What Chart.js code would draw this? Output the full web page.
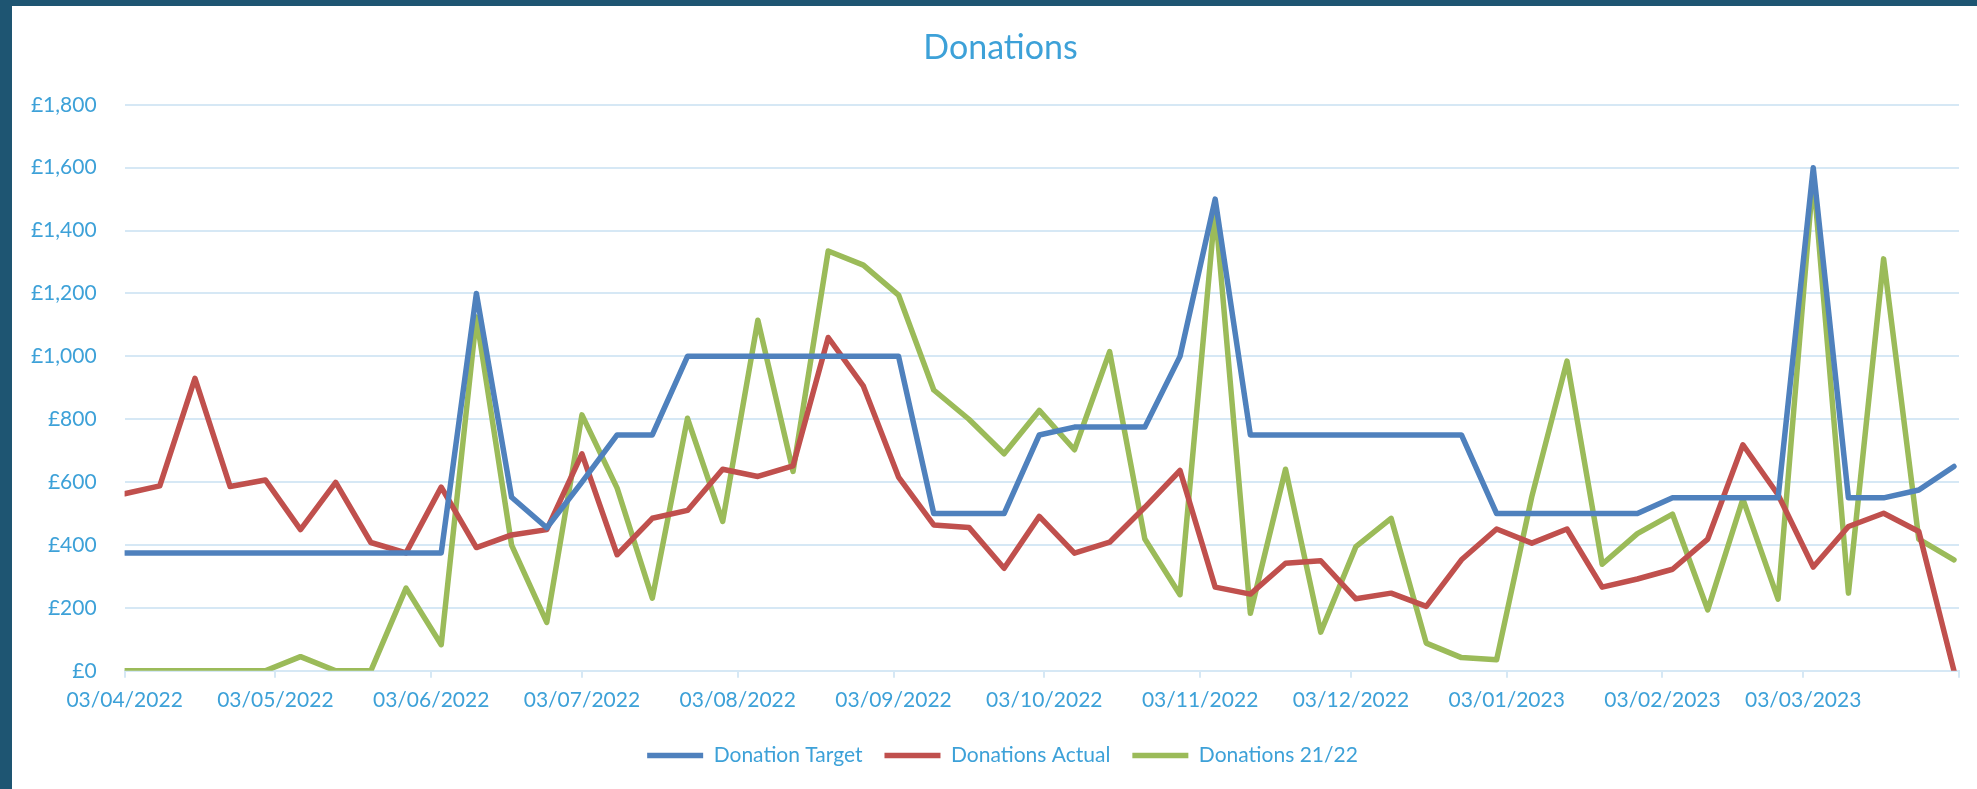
<!DOCTYPE html>
<html>
<head>
<meta charset="utf-8">
<script src="https://cdn.jsdelivr.net/npm/chart.js@4.4.1/dist/chart.umd.min.js"></script>
<style>
  html, body { margin: 0; padding: 0; background: #ffffff; }
  #frame { width: 1965px; height: 783px; border-top: 6px solid #1E5572; border-left: 12px solid #1E5572; background: #fff; }
  #c { display: block; }
</style>
</head>
<body>
<div id="frame"><canvas id="c" width="1965" height="783"></canvas></div>
<script>
// Weekly points, as days since 03/04/2022
const weekDays = [0,7,14,21,28,35,42,49,56,63,70,77,84,91,98,105,112,119,126,133,140,147,154,161,168,175,182,189,196,203,210,217,224,231,238,245,252,259,266,273,280,287,294,301,308,315,322,329,336,343,350,357,364];

const donationTarget = [375,375,375,375,375,375,375,375,375,375,1200,552,455,600,750,750,1000,1000,1000,1000,1000,1000,1000,500,500,500,750,775,775,775,1000,1500,750,750,750,750,750,750,750,500,500,500,500,500,550,550,550,550,1600,550,550,575,650];

const donationsActual = [563,588,930,586,607,449,599,408,375,584,392,432,449,690,369,485,510,641,618,652,1060,905,616,464,456,326,491,374,409,520,637,266,244,342,350,229,247,205,353,451,406,451,266,292,323,419,719,560,330,459,501,443,0];

const donations2122 = [0,0,0,0,0,45,0,0,263,83,1125,400,154,814,581,231,803,475,1115,634,1335,1290,1195,893,800,690,828,703,1015,419,242,1470,183,641,123,395,485,88,42,35,554,985,339,436,498,194,546,228,1575,247,1310,419,353];

// x axis tick positions (days since 03/04/2022) and their labels
const tickDays = [0,30,61,91,122,153,183,214,244,275,306,334,365];
const tickLabels = ['03/04/2022','03/05/2022','03/06/2022','03/07/2022','03/08/2022','03/09/2022','03/10/2022','03/11/2022','03/12/2022','03/01/2023','03/02/2023','03/03/2023',''];

const seriesNames = ['Donation Target','Donations Actual','Donations 21/22'];
const seriesColors = ['#4F81BD','#C0504D','#9BBB59'];
const seriesValues = [donationTarget, donationsActual, donations2122];

const textColor = '#3DA1D8';
const gridColor = '#D6E8F5';
const fam = 'Lato, "Open Sans", sans-serif';

const datasets = seriesValues.map((vals, i) => ({
  label: seriesNames[i],
  data: vals.map((v, k) => ({x: weekDays[k], y: v})),
  borderColor: seriesColors[i],
  backgroundColor: seriesColors[i],
  borderWidth: 5.5,
  pointRadius: 0,
  pointHoverRadius: 0,
  tension: 0,
  borderCapStyle: 'round',
  borderJoinStyle: 'round',
  fill: false
}));

// nudges the title and legend horizontally so they sit where the original centres them
const centerShift = {
  id: 'centerShift',
  afterLayout(chart) {
    const t = chart.titleBlock;
    if (t) { t.left += 15; t.right += 15; }
    const l = chart.legend;
    if (l) { l.left += 17; l.right += 17; }
  }
};

new Chart(document.getElementById('c'), {
  type: 'line',
  data: { datasets },
  plugins: [centerShift],
  options: {
    responsive: false,
    animation: false,
    events: [],
    layout: { padding: { left: 0, right: 18, top: 0, bottom: 13 } },
    plugins: {
      title: {
        display: true,
        text: 'Donations',
        color: textColor,
        font: { family: fam, size: 34, weight: 'normal' },
        padding: { top: 22, bottom: 36 }
      },
      legend: {
        display: true,
        position: 'bottom',
        labels: {
          color: textColor,
          font: { family: fam, size: 21 },
          usePointStyle: true,
          pointStyle: 'line',
          pointStyleWidth: 56,
          padding: 22
        }
      },
      tooltip: { enabled: false }
    },
    scales: {
      x: {
        type: 'linear',
        min: 0,
        max: 365,
        afterBuildTicks: (s) => { s.ticks = tickDays.map(v => ({ value: v })); },
        ticks: {
          autoSkip: false,
          maxRotation: 0,
          color: textColor,
          font: { family: fam, size: 21 },
          padding: 10,
          callback: (v, idx) => tickLabels[idx]
        },
        grid: { drawOnChartArea: false, drawTicks: true, tickLength: 7, color: gridColor, lineWidth: 2 },
        border: { display: true, color: gridColor, width: 2 }
      },
      y: {
        min: 0,
        max: 1800,
        afterFit: (s) => { s.width = 112.6; },
        ticks: {
          stepSize: 200,
          color: textColor,
          font: { family: fam, size: 21 },
          padding: 28,
          callback: (v) => '£' + v.toLocaleString('en-GB')
        },
        grid: { color: gridColor, lineWidth: 2, drawTicks: false },
        border: { display: false }
      }
    }
  }
});
</script>
</body>
</html>
